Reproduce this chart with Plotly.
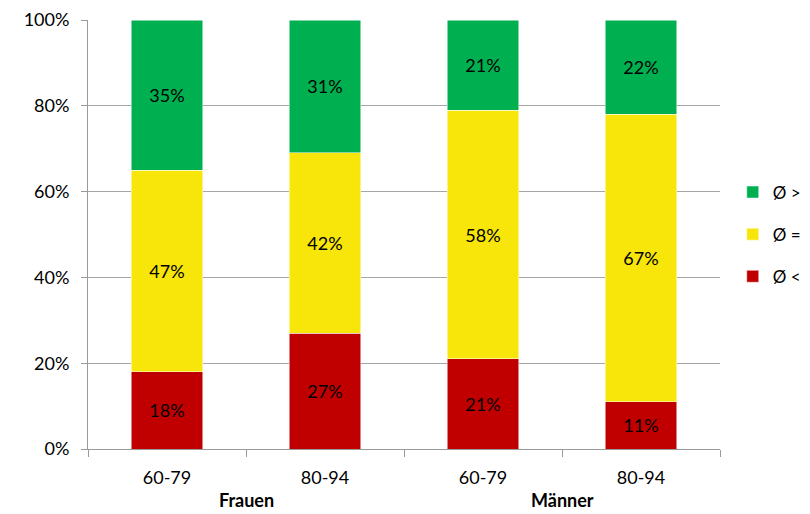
import plotly.graph_objects as go

# Age groups per sex, share of each comparison class (%)
groups = ["Frauen", "Frauen", "Männer", "Männer"]
ages = ["60-79", "80-94", "60-79", "80-94"]
less = [18, 27, 21, 11]
equal = [47, 42, 58, 67]
greater = [35, 31, 21, 22]
y_ticks = [0, 20, 40, 60, 80, 100]

series = [
    ("Ø <", less, "#C00000", 3),
    ("Ø =", equal, "#F8E60B", 2),
    ("Ø >", greater, "#00B050", 1),
]

x = list(range(len(ages)))
font = "Lato, 'Open Sans', sans-serif"

fig = go.Figure()
for name, vals, color, rank in series:
    fig.add_trace(go.Bar(
        x=x, y=vals, name=name, legendgroup=name, legendrank=rank,
        marker=dict(color=color, line=dict(color="white", width=0.5)),
        text=[f"{v}%" for v in vals], textposition="inside",
        insidetextanchor="middle", textangle=0,
        textfont=dict(color="black", size=18, family=font),
        width=0.45,
    ))

# group labels below the age ticks
for g in sorted(set(groups)):
    idx = [i for i, gg in enumerate(groups) if gg == g]
    fig.add_annotation(x=sum(idx) / len(idx), y=0, xref="x", yref="paper",
                       yshift=-64, text=f"<b>{g}</b>", showarrow=False,
                       font=dict(size=18, family=font, color="black"))

fig.update_layout(
    width=810, height=514, barmode="stack",
    margin=dict(l=88, r=0, t=20, b=65, autoexpand=False),
    paper_bgcolor="white", plot_bgcolor="white",
    font=dict(family=font, size=18, color="black"),
    uniformtext=dict(mode="show", minsize=18),
    legend=dict(x=0.893, y=0.50, xanchor="left", yanchor="middle",
                traceorder="grouped", tracegroupgap=17,
                font=dict(size=17, family=font), itemwidth=30),
    xaxis=dict(domain=[0, 632 / 722], range=[-0.5, 3.5], tickvals=x,
               ticktext=ages, ticks="", ticklabelstandoff=12,
               showline=True, linecolor="#9a9a9a", linewidth=1,
               showgrid=False, zeroline=False,
               tickfont=dict(size=18, family=font),
               minor=dict(tickvals=[-0.5, 0.5, 1.5, 2.5, 3.5], ticks="outside",
                          ticklen=7, tickcolor="#9a9a9a", showgrid=False)),
    yaxis=dict(range=[0, 100], tickvals=y_ticks,
               ticktext=[f"{v}%" for v in y_ticks],
               ticks="outside", ticklen=6, tickcolor="#9a9a9a",
               ticklabelstandoff=8,
               showline=True, linecolor="#9a9a9a", linewidth=1,
               showgrid=True, gridcolor="#a6a6a6", gridwidth=1,
               zeroline=False, tickfont=dict(size=18, family=font)),
)

fig.write_html("out.html")
